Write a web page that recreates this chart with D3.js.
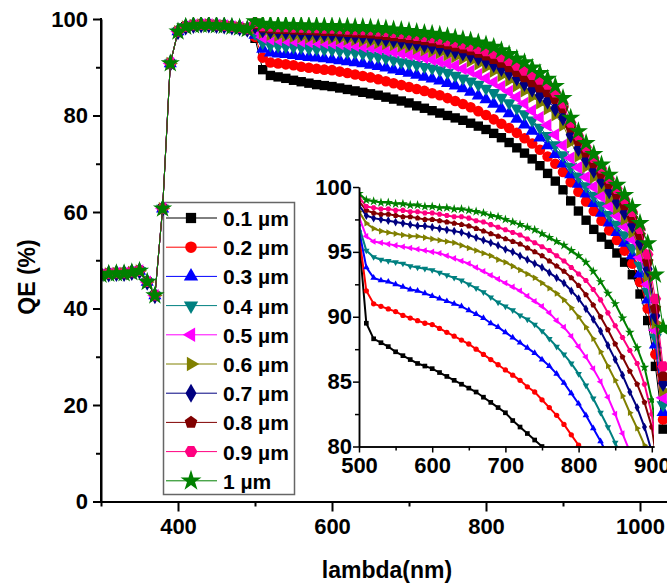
<!DOCTYPE html>
<html>
<head>
<meta charset="utf-8">
<script src="https://cdn.jsdelivr.net/npm/d3@7"></script>
<style>
  body { margin: 0; background: #fff; }
  svg { display: block; font-family: "Liberation Sans", Arial, sans-serif; font-weight: bold; }
</style>
</head>
<body>
<svg id="chart" width="667" height="587"></svg>
<script>
// wavelengths (nm)
const lambdaUV = [300, 310, 320, 330, 340, 350, 360, 370, 380, 390, 400, 410, 420, 430, 440, 450, 460, 470, 480, 490];
const lambdaVis = [500, 510, 520, 530, 540, 550, 560, 570, 580, 590, 600, 610, 620, 630, 640, 650, 660, 670, 680, 690,
  700, 710, 720, 730, 740, 750, 760, 770, 780, 790, 800, 810, 820, 830, 840, 850, 860, 870, 880, 890,
  900, 910, 920, 930, 940, 950, 960, 970, 980, 990, 1000, 1010, 1020, 1030];

// QE below 500 nm is the same for every thickness
const qeUV = [47.0, 47.2, 47.3, 47.3, 47.5, 47.8, 45.5, 42.7, 60.7, 90.8, 97.4, 98.4, 98.7, 98.8, 98.8, 98.7, 98.6, 98.4, 98.2, 97.9];

const qe01 = [96.0, 89.5, 88.3, 88.0, 87.7, 87.3, 87.0, 86.7, 86.4, 86.2, 86.0, 85.7, 85.4, 85.1, 84.8, 84.5, 84.2, 83.8, 83.4, 83.0,
  82.6, 82.0, 81.5, 81.0, 80.5, 80.0, 79.5, 79.0, 78.4, 77.8, 77.1, 76.3, 75.4, 74.4, 73.3, 72.2, 71.0, 69.6, 68.0, 66.4,
  64.6, 62.3, 60.2, 58.3, 56.4, 54.8, 53.3, 51.5, 49.6, 47.0, 43.0, 37.5, 28.0, 15.0];
const qe02 = [96.3, 92.0, 91.0, 90.8, 90.6, 90.4, 90.1, 89.9, 89.7, 89.5, 89.4, 89.1, 88.8, 88.5, 88.2, 87.9, 87.5, 87.1, 86.7, 86.3,
  85.9, 85.5, 85.1, 84.6, 84.2, 83.6, 83.0, 82.4, 81.7, 80.9, 80.1, 79.2, 78.3, 77.4, 76.4, 75.3, 74.2, 72.9, 71.5, 70.0,
  68.3, 66.2, 64.2, 62.2, 60.2, 58.2, 56.2, 54.2, 52.0, 49.3, 45.5, 40.0, 30.5, 17.0];
const qe03 = [96.7, 93.8, 93.0, 92.8, 92.7, 92.5, 92.3, 92.1, 92.0, 91.8, 91.6, 91.4, 91.2, 91.0, 90.8, 90.5, 90.2, 89.9, 89.5, 89.2,
  88.8, 88.4, 88.0, 87.6, 87.2, 86.7, 86.2, 85.6, 84.9, 84.1, 83.3, 82.4, 81.4, 80.4, 79.3, 78.1, 76.8, 75.4, 73.8, 72.0,
  70.0, 67.8, 65.8, 63.8, 61.8, 59.8, 57.8, 55.8, 53.6, 51.0, 47.2, 41.8, 32.5, 18.5];
const qe04 = [97.0, 95.1, 94.6, 94.4, 94.3, 94.2, 94.1, 93.9, 93.8, 93.7, 93.6, 93.4, 93.2, 93.0, 92.8, 92.5, 92.2, 91.9, 91.5, 91.1,
  90.8, 90.5, 90.1, 89.8, 89.4, 88.9, 88.3, 87.7, 87.1, 86.4, 85.6, 84.7, 83.7, 82.6, 81.5, 80.3, 79.0, 77.5, 75.8, 73.9,
  71.8, 69.4, 67.4, 65.4, 63.4, 61.4, 59.4, 57.4, 55.2, 52.6, 48.9, 43.5, 34.0, 20.0];
const qe05 = [97.7, 96.2, 95.8, 95.7, 95.6, 95.5, 95.4, 95.3, 95.2, 95.1, 95.0, 94.9, 94.7, 94.5, 94.3, 94.1, 93.8, 93.5, 93.2, 92.9,
  92.6, 92.3, 92.0, 91.6, 91.2, 90.8, 90.3, 89.7, 89.2, 88.5, 87.7, 86.9, 86.0, 85.0, 83.8, 82.5, 81.0, 79.6, 78.0, 76.0,
  73.8, 71.2, 69.2, 67.2, 65.2, 63.2, 61.2, 59.2, 57.0, 54.3, 50.6, 45.0, 35.5, 21.5];
const qe06 = [98.1, 97.2, 96.8, 96.6, 96.5, 96.4, 96.3, 96.2, 96.2, 96.1, 96.0, 95.9, 95.8, 95.7, 95.5, 95.3, 95.1, 94.9, 94.7, 94.4,
  94.2, 93.9, 93.6, 93.3, 93.0, 92.6, 92.2, 91.8, 91.3, 90.7, 90.0, 89.2, 88.3, 87.3, 86.2, 85.1, 83.9, 82.6, 81.4, 80.1,
  78.0, 74.5, 71.6, 69.4, 67.2, 65.0, 62.8, 60.7, 58.5, 55.8, 52.2, 46.8, 37.0, 23.0];
const qe07 = [98.6, 97.8, 97.6, 97.5, 97.4, 97.3, 97.2, 97.1, 97.0, 97.0, 96.9, 96.8, 96.7, 96.6, 96.5, 96.3, 96.1, 95.9, 95.7, 95.5,
  95.2, 95.0, 94.7, 94.4, 94.1, 93.8, 93.4, 93.0, 92.6, 92.0, 91.4, 90.6, 89.8, 88.9, 87.8, 86.7, 85.5, 84.2, 83.0, 81.5,
  79.6, 76.0, 73.2, 70.9, 68.7, 66.5, 64.4, 62.2, 60.0, 57.3, 53.7, 48.2, 38.5, 24.5];
const qe08 = [98.9, 98.2, 98.0, 97.9, 97.9, 97.8, 97.7, 97.7, 97.6, 97.5, 97.5, 97.4, 97.3, 97.2, 97.1, 97.0, 96.8, 96.6, 96.4, 96.2,
  96.0, 95.8, 95.6, 95.3, 95.0, 94.7, 94.3, 93.9, 93.5, 93.0, 92.4, 91.7, 90.9, 90.0, 89.0, 87.9, 86.9, 85.8, 84.8, 83.4,
  81.5, 77.5, 74.7, 72.3, 70.1, 67.9, 65.8, 63.6, 61.4, 58.7, 55.2, 49.7, 40.0, 26.0];
const qe09 = [99.2, 98.5, 98.4, 98.3, 98.3, 98.2, 98.2, 98.1, 98.1, 98.0, 98.0, 97.9, 97.8, 97.7, 97.7, 97.6, 97.4, 97.3, 97.1, 96.9,
  96.7, 96.5, 96.3, 96.0, 95.7, 95.4, 95.1, 94.7, 94.3, 93.8, 93.3, 92.8, 92.1, 91.3, 90.3, 89.3, 88.4, 87.4, 86.4, 84.8,
  82.5, 78.5, 75.8, 73.4, 71.2, 69.0, 66.9, 64.8, 62.6, 60.0, 56.5, 51.2, 42.0, 28.0];
const qe10 = [99.5, 99.0, 98.9, 98.8, 98.8, 98.7, 98.7, 98.6, 98.6, 98.5, 98.5, 98.4, 98.4, 98.3, 98.3, 98.2, 98.1, 98.0, 97.8, 97.7,
  97.5, 97.3, 97.1, 96.9, 96.7, 96.4, 96.1, 95.8, 95.5, 95.1, 94.7, 94.2, 93.5, 92.7, 91.8, 91.0, 89.9, 88.8, 87.6, 86.1,
  83.6, 79.5, 76.7, 74.3, 72.0, 69.8, 67.7, 65.6, 63.5, 61.0, 57.7, 53.5, 47.0, 36.0];

const seriesLabels = ["0.1 µm", "0.2 µm", "0.3 µm", "0.4 µm", "0.5 µm", "0.6 µm", "0.7 µm", "0.8 µm", "0.9 µm", "1 µm"];
const seriesColors = ["#000000", "#ff0000", "#0000ff", "#008080", "#ff00ff", "#808000", "#000080", "#800000", "#ff0080", "#008000"];
const seriesVis = [qe01, qe02, qe03, qe04, qe05, qe06, qe07, qe08, qe09, qe10];

const mainXTicks = [400, 600, 800, 1000];
const mainXMinor = [300, 500, 700, 900, 1100];
const mainYTicks = [0, 20, 40, 60, 80, 100];
const mainYMinor = [10, 30, 50, 70, 90];
const insetXTicks = [500, 600, 700, 800, 900];
const insetXMinor = [550, 650, 750, 850];
const insetYTicks = [80, 85, 90, 95, 100];
const insetYMinor = [82.5, 87.5, 92.5, 97.5];

// regular polygon marker, rot = angle of first vertex
function polygon(n, rot) {
  return {
    draw(ctx, size) {
      const r = Math.sqrt(size / (n * 0.5 * Math.sin(2 * Math.PI / n)));
      for (let i = 0; i < n; i++) {
        const a = rot + i * 2 * Math.PI / n;
        if (i === 0) ctx.moveTo(r * Math.cos(a), r * Math.sin(a));
        else ctx.lineTo(r * Math.cos(a), r * Math.sin(a));
      }
      ctx.closePath();
    }
  };
}
const seriesSymbols = [
  d3.symbolSquare, d3.symbolCircle,
  polygon(3, -Math.PI / 2), polygon(3, Math.PI / 2), polygon(3, Math.PI), polygon(3, 0),
  d3.symbolDiamond, polygon(5, -Math.PI / 2), polygon(6, 0), d3.symbolStar
];
const symbolScale = [1, 1, 0.85, 0.85, 0.85, 0.85, 1, 1, 1, 1.3];

const series = seriesLabels.map((label, i) => ({
  label: label,
  color: seriesColors[i],
  symbol: seriesSymbols[i],
  k: symbolScale[i],
  points: lambdaUV.map((l, j) => ({ x: l, y: qeUV[j] }))
    .concat(lambdaVis.map((l, j) => ({ x: l, y: seriesVis[i][j] })))
}));

const svg = d3.select("#chart");

// ---------- main plot ----------
const x = d3.scaleLinear().domain([300, 1100]).range([101, 717]);
const y = d3.scaleLinear().domain([0, 100]).range([501.5, 19]);

function styleAxis(g, w) {
  g.select(".domain").attr("stroke", "#000").attr("stroke-width", w);
  g.selectAll(".tick line").attr("stroke", "#000").attr("stroke-width", w);
  g.selectAll(".tick text").attr("fill", "#000").attr("font-size", "22px").attr("font-weight", "bold");
}

// legend box drawn first, curves pass over its corner
const legend = svg.append("g");
legend.append("rect")
  .attr("x", 163.5).attr("y", 202.5).attr("width", 131).attr("height", 292)
  .attr("fill", "#fff").attr("stroke", "#666").attr("stroke-width", 1.5);

svg.append("defs").append("clipPath").attr("id", "clipMain")
  .append("rect").attr("x", 101).attr("y", 17).attr("width", 600).attr("height", 486);
svg.append("defs").append("clipPath").attr("id", "clipInset")
  .append("rect").attr("x", 359).attr("y", 184).attr("width", 295).attr("height", 263);

// ---------- inset ----------
const xi = d3.scaleLinear().domain([500, 903]).range([359, 654]);
const yi = d3.scaleLinear().domain([80, 100]).range([446.5, 187]);
const insetLine = d3.line().x(d => xi(d.x)).y(d => yi(d.y));
const insetG = svg.append("g").attr("clip-path", "url(#clipInset)");
series.forEach(s => {
  const pts = s.points.filter(d => d.x >= 500 && d.x <= 910);
  const g = insetG.append("g");
  g.append("path")
    .attr("d", insetLine(pts))
    .attr("fill", "none")
    .attr("stroke", s.color)
    .attr("stroke-width", 2);
  g.selectAll("path.m")
    .data(pts)
    .enter()
    .append("path")
    .attr("class", "m")
    .attr("transform", d => `translate(${xi(d.x)},${yi(d.y)})`)
    .attr("d", d3.symbol().type(s.symbol).size(22 * s.k))
    .attr("fill", s.color);
});

const xiMinor = svg.append("g").attr("transform", "translate(0,446.5)")
  .call(d3.axisBottom(xi).tickValues(insetXMinor).tickSize(4).tickSizeOuter(0).tickFormat(""));
styleAxis(xiMinor, 1.5);
const xiAxis = svg.append("g").attr("transform", "translate(0,446.5)")
  .call(d3.axisBottom(xi).tickValues(insetXTicks).tickSize(6).tickPadding(5).tickSizeOuter(0).tickFormat(d3.format("d")));
styleAxis(xiAxis, 1.5);
const yiMinor = svg.append("g").attr("transform", "translate(359,0)")
  .call(d3.axisLeft(yi).tickValues(insetYMinor).tickSize(4).tickSizeOuter(0).tickFormat(""));
styleAxis(yiMinor, 1.5);
const yiAxis = svg.append("g").attr("transform", "translate(359,0)")
  .call(d3.axisLeft(yi).tickValues(insetYTicks).tickSize(6).tickPadding(1).tickSizeOuter(0));
styleAxis(yiAxis, 1.5);

// main curves, drawn over the inset like in the figure
const mainLine = d3.line().x(d => x(d.x)).y(d => y(d.y));
const mainG = svg.append("g").attr("clip-path", "url(#clipMain)");
series.forEach(s => {
  const g = mainG.append("g");
  g.append("path")
    .attr("d", mainLine(s.points))
    .attr("fill", "none")
    .attr("stroke", s.color)
    .attr("stroke-width", 1);
  g.selectAll("path.m")
    .data(s.points)
    .enter()
    .append("path")
    .attr("class", "m")
    .attr("transform", d => `translate(${x(d.x)},${y(d.y)})`)
    .attr("d", d3.symbol().type(s.symbol).size(88 * s.k))
    .attr("fill", s.color);
});

const xMinorAxis = svg.append("g").attr("transform", "translate(0,501.5)")
  .call(d3.axisBottom(x).tickValues(mainXMinor).tickSize(5).tickSizeOuter(0).tickFormat(""));
styleAxis(xMinorAxis, 2);
const xAxis = svg.append("g").attr("transform", "translate(0,501.5)")
  .call(d3.axisBottom(x).tickValues(mainXTicks).tickSize(10).tickPadding(7).tickSizeOuter(0).tickFormat(d3.format("d")));
styleAxis(xAxis, 2);

const yMinorAxis = svg.append("g").attr("transform", "translate(101,0)")
  .call(d3.axisLeft(y).tickValues(mainYMinor).tickSize(5).tickSizeOuter(0).tickFormat(""));
styleAxis(yMinorAxis, 2);
const yAxis = svg.append("g").attr("transform", "translate(101,0)")
  .call(d3.axisLeft(y).tickValues(mainYTicks).tickSize(8).tickPadding(5).tickSizeOuter(0));
styleAxis(yAxis, 2);
yAxis.select(".domain").attr("d", "M0,18V501.5");

svg.append("text")
  .attr("transform", "translate(35,277) rotate(-90)")
  .attr("text-anchor", "middle")
  .attr("font-size", "23px")
  .text("QE (%)");
svg.append("text")
  .attr("x", 387).attr("y", 578)
  .attr("text-anchor", "middle")
  .attr("font-size", "23px")
  .text("lambda(nm)");

// ---------- legend entries ----------
const rows = legend.selectAll("g.row")
  .data(series)
  .enter()
  .append("g")
  .attr("class", "row")
  .attr("transform", (d, i) => `translate(0,${218 + i * 29.2})`);
rows.append("line")
  .attr("x1", 166).attr("x2", 217)
  .attr("stroke", d => d.color).attr("stroke-width", 1);
rows.append("path")
  .attr("transform", "translate(191,0)")
  .attr("d", d => d3.symbol().type(d.symbol).size(105 * d.k)())
  .attr("fill", d => d.color);
rows.append("text")
  .attr("x", 223).attr("y", 8)
  .attr("font-size", "21px")
  .text(d => d.label);
</script>
</body>
</html>
